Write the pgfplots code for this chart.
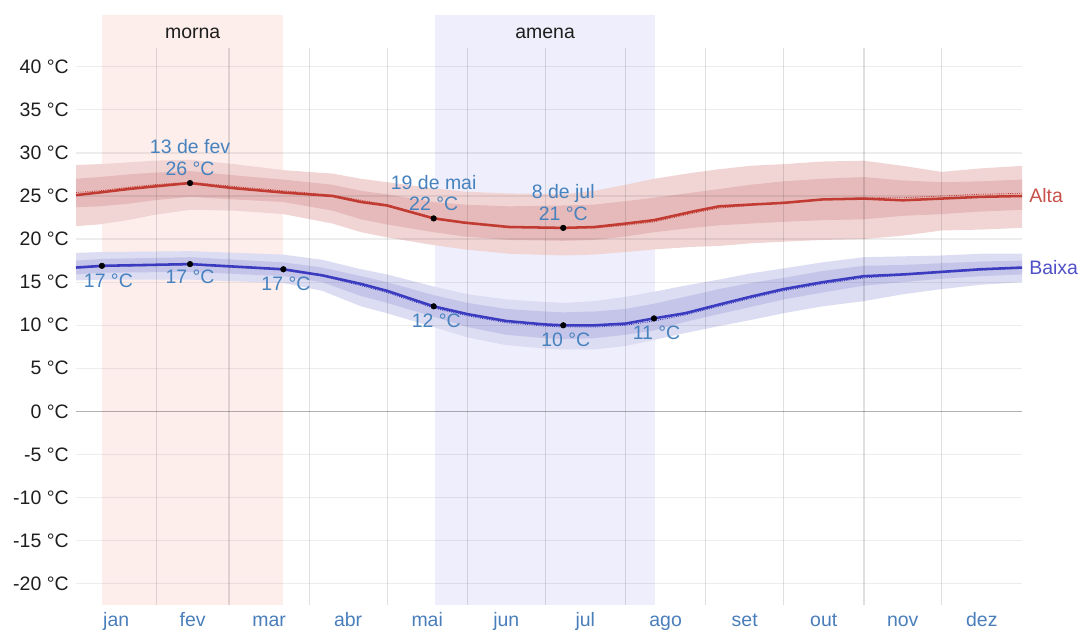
\documentclass[border=0pt]{standalone}
\usepackage{fontspec}
\setmainfont{Liberation Sans}
\usepackage{pgfplots}
\usepackage{pgfplotstable}
\pgfplotsset{compat=1.18}
\usepgfplotslibrary{fillbetween}

\definecolor{morna}{HTML}{FDEEEC}
\definecolor{amena}{HTML}{EEEEFC}
\definecolor{altaOut}{HTML}{F1D5D5}
\definecolor{altaIn}{HTML}{E6BABA}
\definecolor{altaLine}{HTML}{C23B33}
\definecolor{baixaOut}{HTML}{DCDCF2}
\definecolor{baixaIn}{HTML}{C5C5EA}
\definecolor{baixaLine}{HTML}{3B3BC0}
\definecolor{annot}{HTML}{4682BE}
\definecolor{monthc}{HTML}{4A7EBB}
\definecolor{ytc}{HTML}{1E1E1E}
\definecolor{altaLab}{HTML}{C8504A}
\definecolor{baixaLab}{HTML}{5050C8}

\pgfplotstableread{
day olo ilo mid ihi ohi dot
0 21.5 23.7 25.1 27.0 28.6 25.4
9 21.7 23.8 25.4 27.2 28.7 25.6
20 22.2 24.1 25.8 27.5 28.9 26.0
30 22.8 24.5 26.1 27.7 29.1 26.3
44 23.4 24.9 26.5 27.9 29.2 26.6
61 23.3 24.6 25.9 27.4 28.7 26.1
80 22.9 24.3 25.4 26.9 28.0 25.6
99 21.8 23.3 25.0 26.3 27.6 25.1
110 20.8 22.3 24.3 25.6 27.0 24.5
120 20.2 21.7 23.9 25.2 26.6 24.0
138 19.3 20.8 22.4 24.3 25.9 22.5
150 18.8 20.3 21.9 24.0 25.5 22.0
167 18.3 19.9 21.4 23.8 25.3 21.5
188 18.1 19.8 21.3 23.9 25.2 21.3
200 18.2 19.9 21.4 24.0 25.6 21.3
212 18.5 20.3 21.8 24.4 26.3 21.6
223 18.8 20.8 22.2 24.8 27.0 22.0
238 19.1 21.3 23.2 25.4 27.7 23.0
248 19.2 21.6 23.8 25.8 28.1 23.6
260 19.5 21.8 24.0 26.3 28.5 23.9
273 19.7 22.0 24.2 26.7 28.7 24.3
288 19.9 22.2 24.6 27.0 29.0 24.6
304 20.0 22.3 24.7 27.2 29.1 24.8
319 20.4 22.7 24.5 26.8 28.5 24.8
334 21.0 22.9 24.7 26.6 27.8 25.0
349 21.1 23.2 24.9 26.7 28.2 25.2
365 21.3 23.4 25.0 26.9 28.5 25.3
}\alta

\pgfplotstableread{
day olo ilo mid ihi ohi dot
0 15.2 15.9 16.7 17.5 18.4 16.6
10 15.3 16.1 16.9 17.7 18.5 16.8
44 15.3 16.2 17.1 17.9 18.6 17.0
80 14.9 15.7 16.5 17.3 18.2 16.4
95 14.0 15.0 15.8 16.7 17.6 15.7
110 12.2 13.4 14.8 15.7 16.5 14.6
120 11.4 12.6 14.0 15.0 15.9 13.8
138 9.8 11.0 12.2 13.5 14.5 12.0
151 8.6 9.8 11.3 12.6 13.6 11.1
166 7.7 8.9 10.5 11.9 13.0 10.3
181 7.3 8.5 10.1 11.6 12.7 9.9
188 7.2 8.4 10.0 11.5 12.6 9.8
200 7.2 8.5 10.0 11.6 12.8 9.8
212 7.6 8.9 10.2 11.9 13.3 10.0
223 8.3 9.4 10.8 12.5 13.9 10.5
235 9.1 10.4 11.4 13.3 14.6 11.2
248 9.9 11.3 12.4 14.2 15.3 12.2
260 10.6 12.1 13.3 14.9 16.0 13.1
273 11.4 13.0 14.2 15.5 16.6 14.0
288 12.2 13.8 15.0 16.3 17.3 14.8
304 12.8 14.6 15.7 16.9 17.9 15.5
319 13.6 15.0 15.9 17.0 18.0 15.8
334 14.2 15.4 16.2 17.2 18.1 16.1
349 14.7 15.7 16.5 17.4 18.3 16.4
365 15.0 15.9 16.7 17.5 18.3 16.6
}\baixa

\begin{document}
\begin{tikzpicture}
\begin{axis}[
  set layers=standard,
  scale only axis, width=709.5pt, height=442.5pt,
  xmin=0, xmax=365, ymin=-22.45, ymax=46.0,
  clip=false,
  axis line style={draw=none}, tick style={draw=none},
  font=\fontsize{14.6}{17}\selectfont,
  xtick={15.5,45,74.5,105,135.5,166,196.5,227.5,258,288.5,319,349.5},
  xticklabels={jan,fev,mar,abr,mai,jun,jul,ago,set,out,nov,dez},
  typeset ticklabels with strut,
  xticklabel style={text=monthc, font=\fontsize{14.6}{17}\selectfont, yshift=-1pt},
  ytick={-20,-15,-10,-5,0,5,10,15,20,25,30,35,40},
  yticklabels={-20 °C,-15 °C,-10 °C,-5 °C,0 °C,5 °C,10 °C,15 °C,20 °C,25 °C,30 °C,35 °C,40 °C},
  yticklabel style={text=ytc, font=\fontsize{14.6}{17}\selectfont, xshift=-2pt, yshift=-1.5pt},
]
% season backgrounds
\addplot[fill=morna, draw=none, forget plot, on layer=axis background] coordinates {(10,-22.45) (10,46) (80,46) (80,-22.45)};
\addplot[fill=amena, draw=none, forget plot, on layer=axis background] coordinates {(138.5,-22.45) (138.5,46) (223.4,46) (223.4,-22.45)};

% Alta bands
\addplot[draw=none, name path=aolo, forget plot] table[x=day,y=olo]{\alta};
\addplot[draw=none, name path=ailo, forget plot] table[x=day,y=ilo]{\alta};
\addplot[draw=none, name path=aihi, forget plot] table[x=day,y=ihi]{\alta};
\addplot[draw=none, name path=aohi, forget plot] table[x=day,y=ohi]{\alta};
\addplot[fill=altaOut, draw=none, forget plot] fill between[of=aohi and aolo];
\addplot[fill=altaIn, draw=none, forget plot] fill between[of=aihi and ailo];

% Baixa bands
\addplot[draw=none, name path=bolo, forget plot] table[x=day,y=olo]{\baixa};
\addplot[draw=none, name path=bilo, forget plot] table[x=day,y=ilo]{\baixa};
\addplot[draw=none, name path=bihi, forget plot] table[x=day,y=ihi]{\baixa};
\addplot[draw=none, name path=bohi, forget plot] table[x=day,y=ohi]{\baixa};
\addplot[fill=baixaOut, draw=none, forget plot] fill between[of=bohi and bolo];
\addplot[fill=baixaIn, draw=none, forget plot] fill between[of=bihi and bilo];

% grid
\pgfplotsinvokeforeach{-20,-15,-10,-5,5,10,15,20,25,30,35,40}{
  \draw[black, opacity=0.07, line width=0.9pt] (axis cs:0,#1) -- (axis cs:365,#1);
}
\draw[black, opacity=0.3, line width=0.9pt] (axis cs:0,0) -- (axis cs:365,0);
\pgfplotsinvokeforeach{31,59,90,120.2,151,181,212,243,273,304,334}{
  \draw[black, opacity=0.12, line width=0.9pt] (axis cs:#1,-22.45) -- (axis cs:#1,42.2);
}

% lines
\addplot[altaLine, densely dotted, line width=0.7pt, forget plot] table[x=day,y=dot]{\alta};
\addplot[altaLine, line width=1.9pt, forget plot] table[x=day,y=mid]{\alta};
\addplot[baixaLine, densely dotted, line width=0.7pt, forget plot] table[x=day,y=dot]{\baixa};
\addplot[baixaLine, line width=1.9pt, forget plot] table[x=day,y=mid]{\baixa};

% marks
\addplot[only marks, mark=*, mark size=2.1pt, black, forget plot] coordinates {(44,26.5) (138,22.4) (188,21.3)};
\addplot[only marks, mark=*, mark size=2.1pt, black, forget plot] coordinates {(10,16.9) (44,17.1) (80,16.5) (138,12.2) (188,10.0) (223,10.8)};

% season labels
\node[text=ytc] at (axis cs:45,43.9) {morna};
\node[text=ytc] at (axis cs:181,43.9) {amena};

% annotations
\begin{scope}[every node/.style={text=annot, align=center, inner sep=1pt}]
\node[anchor=south] at (axis cs:44,27.2) {13 de fev\\[-1pt]26 °C};
\node[anchor=south] at (axis cs:138,23.1) {19 de mai\\[-1pt]22 °C};
\node[anchor=south] at (axis cs:188,22.0) {8 de jul\\[-1pt]21 °C};
\node[anchor=north] at (axis cs:12.5,16.2) {17 °C};
\node[anchor=north] at (axis cs:44,16.6) {17 °C};
\node[anchor=north] at (axis cs:81,15.8) {17 °C};
\node[anchor=north] at (axis cs:139,11.5) {12 °C};
\node[anchor=north] at (axis cs:189,9.3) {10 °C};
\node[anchor=north] at (axis cs:224,10.1) {11 °C};
\end{scope}

\node[anchor=west, text=altaLab] at (axis cs:366,25.0) {Alta};
\node[anchor=west, text=baixaLab] at (axis cs:366,16.7) {Baixa};
\end{axis}
\pgfresetboundingbox
\path ([shift={(-57pt,-18.75pt)}]current axis.south west) rectangle ([shift={(44.25pt,11.25pt)}]current axis.north east);
\end{tikzpicture}
\end{document}
